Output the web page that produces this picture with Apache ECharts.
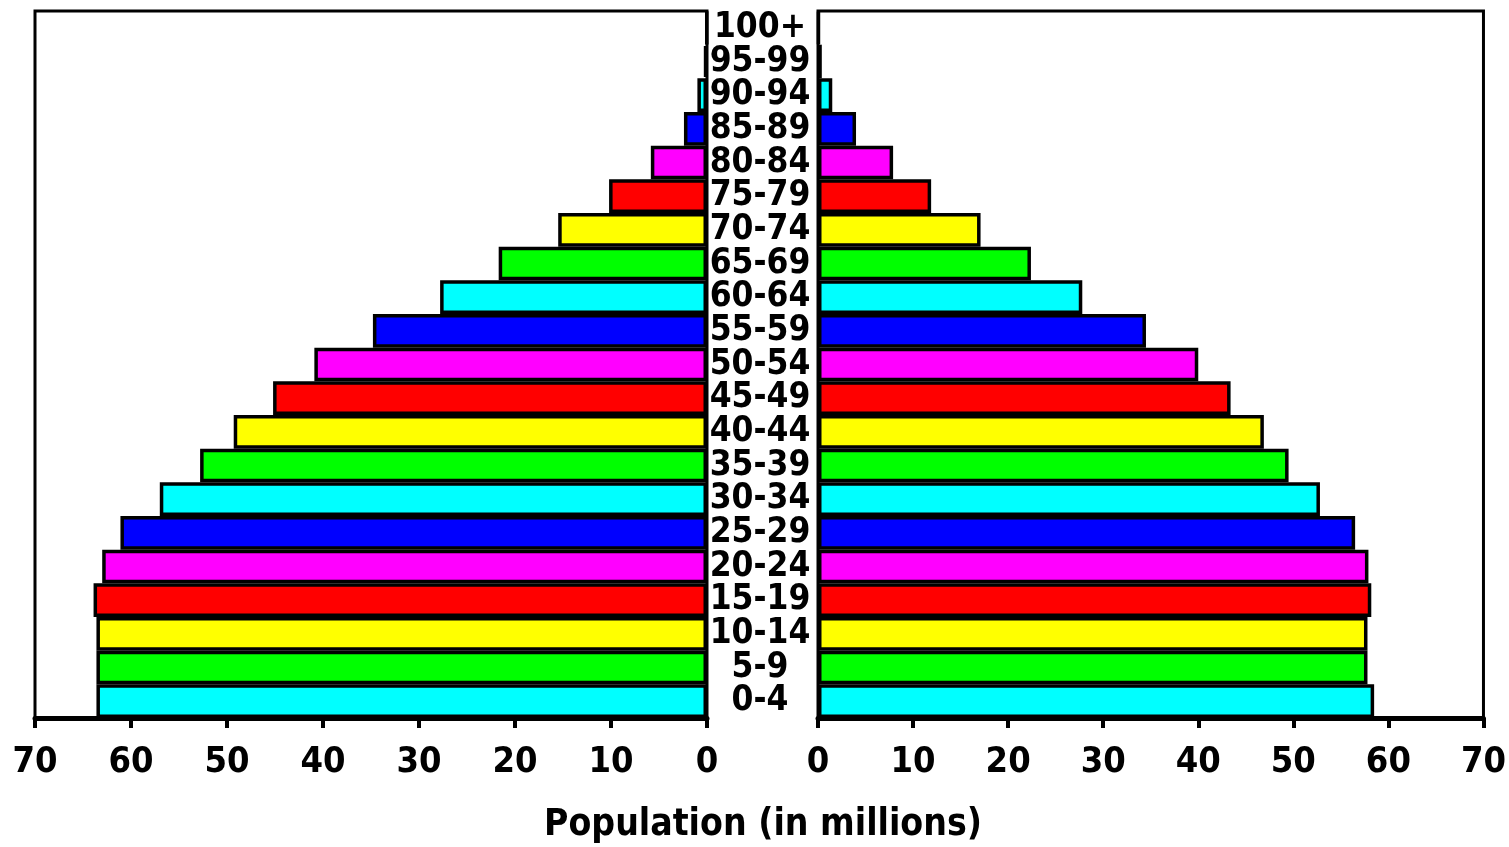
<!DOCTYPE html>
<html>
<head>
<meta charset="utf-8">
<script src="https://cdn.jsdelivr.net/npm/echarts@6/dist/echarts.min.js"></script>
<style>html,body{margin:0;padding:0;background:#fff}#chart{width:1509px;height:847px}</style>
</head>
<body>
<div id="chart"></div>
<script>
const ageGroups = ['0-4','5-9','10-14','15-19','20-24','25-29','30-34','35-39','40-44','45-49','50-54','55-59','60-64','65-69','70-74','75-79','80-84','85-89','90-94','95-99','100+'];
const leftValues = [63.6, 63.6, 63.6, 63.9, 63.0, 61.1, 57.0, 52.8, 49.3, 45.2, 40.9, 34.8, 27.8, 21.7, 15.5, 10.2, 5.85, 2.4, 1.0, 0.3, 0.05];
const rightValues = [58.5, 57.8, 57.8, 58.2, 57.9, 56.5, 52.8, 49.5, 46.9, 43.4, 40.0, 34.5, 27.8, 22.4, 17.1, 11.9, 7.9, 4.0, 1.5, 0.4, 0.1];
const barColors = ['#00ffff', '#00ff00', '#ffff00', '#ff0000', '#ff00ff', '#0000ff'];
const axisMin = 0, axisMax = 70, axisStep = 10;
const axisTitle = 'Population (in millions)';

const FONT = '"DejaVu Sans Condensed", "DejaVu Sans", sans-serif';
const chart = echarts.init(document.getElementById('chart'));

function coloured(vals) {
  return vals.map((v, i) => ({ value: v, itemStyle: { color: barColors[i % barColors.length] } }));
}
function xAxisCfg(idx, inverse) {
  return {
    type: 'value', gridIndex: idx, inverse: inverse,
    min: axisMin, max: axisMax, interval: axisStep,
    axisLine: { show: true, onZero: false, lineStyle: { color: '#000', width: 5 } },
    axisTick: { show: true, length: 10, lineStyle: { color: '#000', width: 4 } },
    axisLabel: { margin: 27, color: '#000', fontFamily: FONT, fontWeight: 'bold', fontSize: 36 },
    splitLine: { show: false }
  };
}
chart.setOption({
  animation: false,
  backgroundColor: '#fff',
  title: {
    text: axisTitle, left: 758, textAlign: 'center', top: 802,
    textStyle: { fontFamily: FONT, fontWeight: 'bold', fontSize: 37, color: '#000' }
  },
  grid: [
    { left: 35, right: 802, top: 11, bottom: 129, show: true, borderColor: '#000', borderWidth: 3, backgroundColor: 'transparent' },
    { left: 818, right: 22, top: 11, bottom: 129, show: true, borderColor: '#000', borderWidth: 3, backgroundColor: 'transparent' }
  ],
  xAxis: [xAxisCfg(0, true), xAxisCfg(1, false)],
  yAxis: [
    {
      type: 'category', gridIndex: 0, data: ageGroups, position: 'right',
      axisLine: { show: false }, axisTick: { show: false },
      axisLabel: { show: true, interval: 0, hideOverlap: false, margin: 53, align: 'center', color: '#000', fontFamily: FONT, fontWeight: 'bold', fontSize: 35 }
    },
    {
      type: 'category', gridIndex: 1, data: ageGroups,
      axisLine: { show: false }, axisTick: { show: false }, axisLabel: { show: false }
    }
  ],
  series: [
    {
      type: 'bar', xAxisIndex: 0, yAxisIndex: 0, data: coloured(leftValues),
      barCategoryGap: '0%', itemStyle: { borderColor: '#000', borderWidth: 3.5 }
    },
    {
      type: 'bar', xAxisIndex: 1, yAxisIndex: 1, data: coloured(rightValues),
      barCategoryGap: '0%', itemStyle: { borderColor: '#000', borderWidth: 3.5 }
    }
  ]
});
</script>
</body>
</html>
